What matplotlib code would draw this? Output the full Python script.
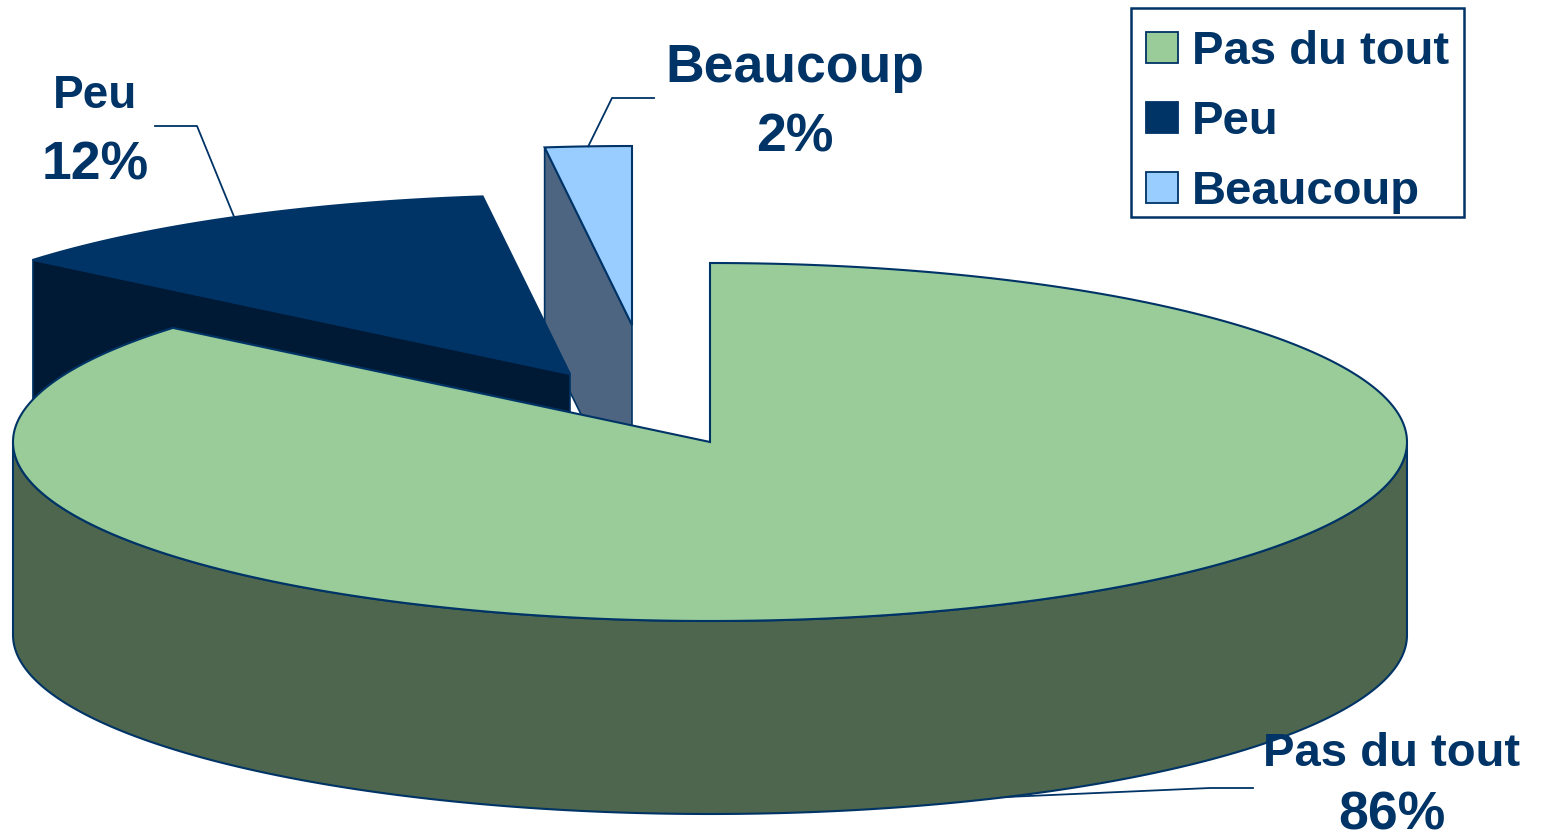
import numpy as np
import matplotlib.pyplot as plt
from matplotlib.patches import Polygon, Rectangle

# data
labels = ["Pas du tout", "Peu", "Beaucoup"]
values = [86, 12, 2]
pct_labels = ["86%", "12%", "2%"]
top_colors = ["#99cc99", "#003366", "#99ccff"]
side_colors = ["#4d664d", "#001a36", "#4d6580"]

# layout of the fake 3d pie (pixels)
cx, cy = 710, 442
rx, ry = 697, 179
depth = 193
offsets = [(0, 0), (-140, -68), (-78, -117)]
edge = "#003366"
navy = "#003366"

fig = plt.figure(figsize=(15.43, 8.4), dpi=100)
ax = fig.add_axes([0, 0, 1, 1])
ax.set_xlim(0, 1543)
ax.set_ylim(840, 0)
ax.axis("off")


def arc(ox, oy, a0, a1, dy=0, n=200):
    t = np.radians(np.linspace(a0, a1, n))
    return np.column_stack([cx + ox + rx * np.cos(t), cy + oy + dy - ry * np.sin(t)])


# angles: start at 12 o'clock, clockwise
ends = 90 - np.concatenate([[0], np.cumsum(values)[:-1]]) * 3.6
starts = ends - np.array(values) * 3.6

mid_pts = []
for i in range(len(values)):
    a0, a1 = starts[i], ends[i]
    ox, oy = offsets[i]
    mid = np.radians((a0 + a1) / 2)
    mid_pts.append((cx + ox + rx * np.cos(mid), cy + oy - ry * np.sin(mid),
                    cy + oy + depth - ry * np.sin(mid)))

for i in reversed(range(len(values))):
    a0, a1 = starts[i], ends[i]
    ox, oy = offsets[i]
    apex = np.array([cx + ox, cy + oy])
    down = np.array([0, depth])
    # radial faces
    for a, vis in [(a1, np.cos(np.radians(a1)) < -1e-6), (a0, np.cos(np.radians(a0)) > 1e-6)]:
        if vis:
            p = arc(ox, oy, a, a, n=1)[0]
            ax.add_patch(Polygon([apex, p, p + down, apex + down], closed=True,
                                 facecolor=side_colors[i], edgecolor=edge, lw=1.2, zorder=2))
    # outer wall (front half only)
    t = np.linspace(a0, a1, 600)
    front = t[np.sin(np.radians(t)) <= 0]
    if len(front) > 1:
        top = arc(ox, oy, front[0], front[-1])
        bot = arc(ox, oy, front[-1], front[0], dy=depth)
        ax.add_patch(Polygon(np.vstack([top, bot]), closed=True,
                             facecolor=side_colors[i], edgecolor=edge, lw=1.5, zorder=2))
    # top face
    pts = np.vstack([apex, arc(ox, oy, a0, a1, n=400)])
    ax.add_patch(Polygon(pts, closed=True, facecolor=top_colors[i],
                         edgecolor=edge, lw=1.5, zorder=3))

# data labels with leader lines
font = dict(family="Liberation Sans", weight="bold", color=navy)
label_pos = [(1392, 766, 829), (95, 108, 179), (795, 82, 152)]
name_sizes = [34, 33, 38.5]
leader = [((1253, 788), (1210, 788)), ((155, 126), (197, 126)), ((654, 98), (612, 98))]
for i in range(len(values)):
    x, yb1, yb2 = label_pos[i]
    ax.text(x, yb1, labels[i], ha="center", va="baseline", fontsize=name_sizes[i], **font)
    ax.text(x, yb2, pct_labels[i], ha="center", va="baseline", fontsize=38.5, **font)
    mx, my_top, my_bot = mid_pts[i]
    my = my_bot if i == 0 else my_top
    (x0, y0), (x1, y1) = leader[i]
    ax.plot([x0, x1, mx], [y0, y1, my], color=navy, lw=1.3, zorder=4)

# legend
ax.add_patch(Rectangle((1131, 8), 333, 209, facecolor="white", edgecolor=navy, lw=1.8, zorder=5))
for i, lab in enumerate(labels):
    ytop = 32 + 70 * i
    ax.add_patch(Rectangle((1146, ytop), 32, 31, facecolor=top_colors[i],
                           edgecolor=navy, lw=1.3, zorder=6))
    ax.text(1192, ytop + 32, lab, ha="left", va="baseline", fontsize=34, zorder=6, **font)

fig.savefig("out.png", dpi=100)
